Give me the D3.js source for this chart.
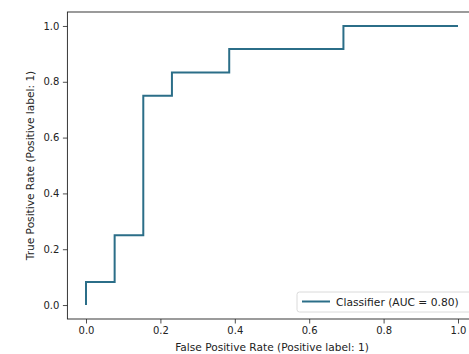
<!DOCTYPE html>
<html>
<head>
<meta charset="utf-8">
<script src="https://cdn.jsdelivr.net/npm/d3@7"></script>
<style>
  html, body { margin: 0; padding: 0; background: #fff; }
  svg { display: block; }
  text { font-family: "DejaVu Sans", sans-serif; fill: #222; }
</style>
</head>
<body>
<svg id="chart" width="469" height="354"></svg>
<script>
// ROC curve points (false positive rate, true positive rate)
const fpr = [0, 0, 0.077, 0.077, 0.154, 0.154, 0.231, 0.231, 0.385, 0.385, 0.692, 0.692, 1.0];
const tpr = [0, 0.083, 0.083, 0.25, 0.25, 0.75, 0.75, 0.833, 0.833, 0.917, 0.917, 1.0, 1.0];
const tickValues = [0.0, 0.2, 0.4, 0.6, 0.8, 1.0];
const seriesLabel = "Classifier (AUC = 0.80)";
const xLabel = "False Positive Rate (Positive label: 1)";
const yLabel = "True Positive Rate (Positive label: 1)";

const svg = d3.select("#chart");
const mLeft = 67.4, mRight = 476.6, mTop = 12, mBottom = 319;

const x = d3.scaleLinear().domain([-0.05, 1.05]).range([mLeft, mRight]);
const y = d3.scaleLinear().domain([-0.05, 1.05]).range([mBottom, mTop]);

const lineColor = "#2b6e88";

// line
const pts = fpr.map((f, i) => [f, tpr[i]]);
svg.append("path")
  .datum(pts)
  .attr("fill", "none")
  .attr("stroke", lineColor)
  .attr("stroke-width", 2)
  .attr("stroke-linejoin", "miter")
  .attr("d", d3.line().x(d => x(d[0])).y(d => y(d[1])));

// axes
const xAxis = svg.append("g")
  .attr("transform", `translate(0,${mBottom})`)
  .call(d3.axisBottom(x).tickValues(tickValues).tickFormat(d3.format(".1f")).tickSize(4.5).tickPadding(3.5));
const yAxis = svg.append("g")
  .attr("transform", `translate(${mLeft},0)`)
  .call(d3.axisLeft(y).tickValues(tickValues).tickFormat(d3.format(".1f")).tickSize(4.5).tickPadding(3.5));

[xAxis, yAxis].forEach(g => {
  g.select(".domain").remove();
  g.selectAll(".tick line").attr("stroke", "#222").attr("stroke-width", 0.8);
  g.selectAll(".tick text").attr("font-size", "10px").attr("fill", "#222")
    .attr("font-family", "DejaVu Sans, sans-serif");
});

// spines
svg.append("rect")
  .attr("x", mLeft).attr("y", mTop)
  .attr("width", mRight - mLeft).attr("height", mBottom - mTop)
  .attr("fill", "none").attr("stroke", "#222").attr("stroke-width", 0.9);

// axis labels
svg.append("text")
  .attr("x", (mLeft + mRight) / 2).attr("y", 351)
  .attr("text-anchor", "middle").attr("font-size", "10.6px")
  .text(xLabel);
svg.append("text")
  .attr("transform", `translate(34,${(mTop + mBottom) / 2}) rotate(-90)`)
  .attr("text-anchor", "middle").attr("font-size", "10.6px")
  .text(yLabel);

// legend
const lg = svg.append("g");
lg.append("rect")
  .attr("x", 297).attr("y", 292).attr("width", 175).attr("height", 20)
  .attr("rx", 2.5).attr("fill", "#fff").attr("fill-opacity", 0.8)
  .attr("stroke", "#d0d0d0").attr("stroke-width", 0.8);
lg.append("line")
  .attr("x1", 302).attr("x2", 330).attr("y1", 301.5).attr("y2", 301.5)
  .attr("stroke", lineColor).attr("stroke-width", 2);
lg.append("text")
  .attr("x", 336).attr("y", 305.5).attr("font-size", "10.7px")
  .text(seriesLabel);
</script>
</body>
</html>
